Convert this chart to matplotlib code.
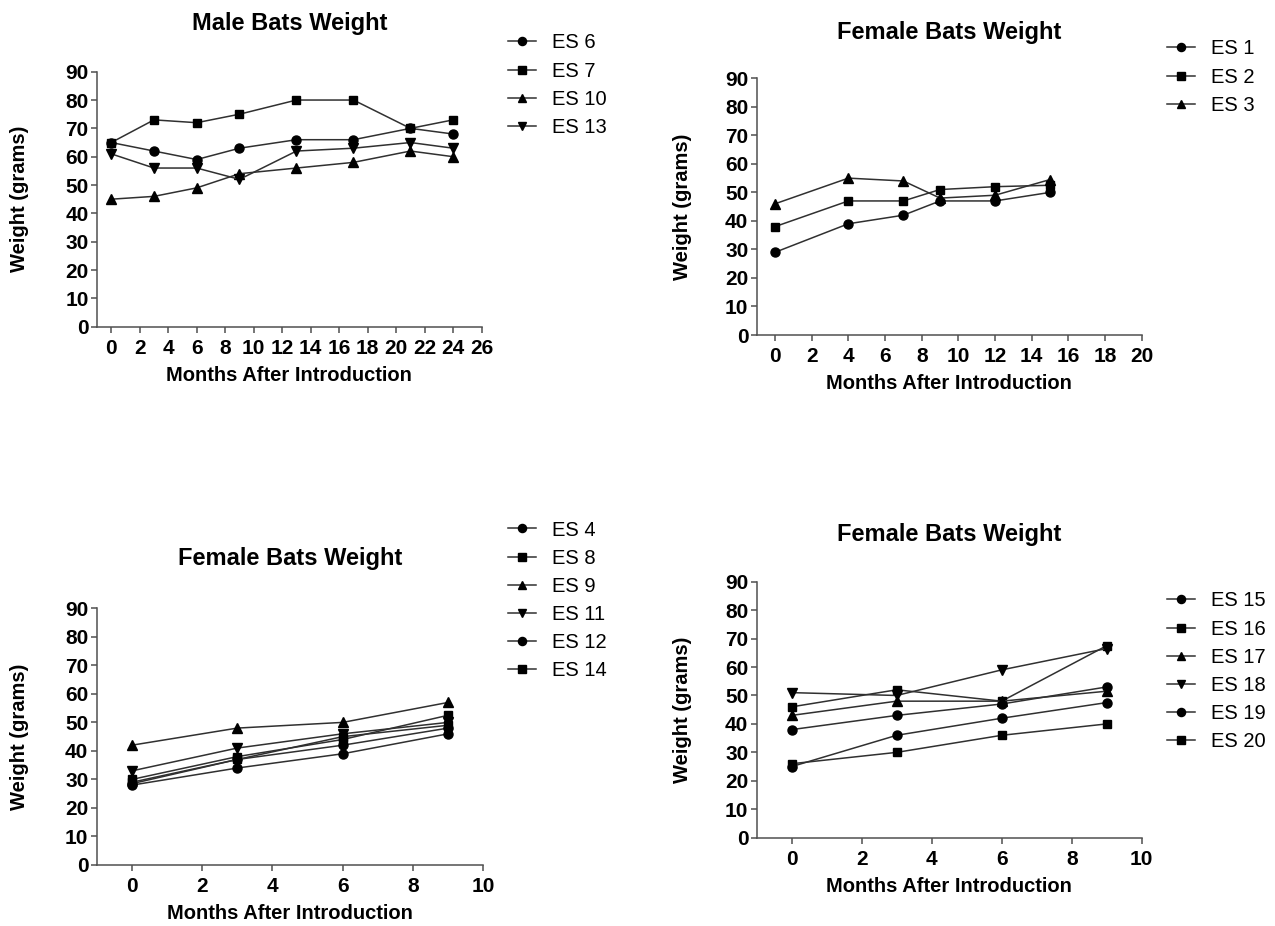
import matplotlib
matplotlib.use("Agg")
import matplotlib.pyplot as plt

plt.rcParams['font.family'] = ['Liberation Sans', 'DejaVu Sans']

# ---------------- data ----------------
male_months = [0, 3, 6, 9, 13, 17, 21, 24]
es6 = [65, 62, 59, 63, 66, 66, 70, 68]
es7 = [65, 73, 72, 75, 80, 80, 70, 73]
es10 = [45, 46, 49, 54, 56, 58, 62, 60]
es13 = [61, 56, 56, 52, 62, 63, 65, 63]

fem_a_months = [0, 4, 7, 9, 12, 15]
es1 = [29, 39, 42, 47, 47, 50]
es2 = [38, 47, 47, 51, 52, 52.5]
es3 = [46, 55, 54, 48, 49, 54.5]

fem_b_months = [0, 3, 6, 9]
es4 = [28, 34, 39, 46]
es8 = [30, 38, 44, 52.5]
es9 = [42, 48, 50, 57]
es11 = [33, 41, 46, 50]
es12 = [28.5, 37, 42, 48]
es14 = [29, 37, 45, 49]

fem_c_months = [0, 3, 6, 9]
es15 = [38, 43, 47, 53]
es16 = [46, 52, 48, 67.5]
es17 = [43, 48, 48, 51.5]
es18 = [51, 50, 59, 66.5]
es19 = [25, 36, 42, 47.5]
es20 = [26, 30, 36, 40]

titles = ["Male Bats Weight", "Female Bats Weight", "Female Bats Weight", "Female Bats Weight"]
xlabel = "Months After Introduction"
ylabel = "Weight (grams)"

# ---------------- layout ----------------
W, H = 1275, 926
fig = plt.figure(figsize=(W / 100, H / 100), dpi=100)

def rect(x0, ybot, x1, ytop):
    return [x0 / W, 1 - ybot / H, (x1 - x0) / W, (ybot - ytop) / H]

LINE_C = '#303030'
SPINE_C = '#505050'
TICK_FS = 15
LAB_FS = 14.5
TITLE_FS = 17
LEG_FS = 14.5

marker_size = {'o': 6.5, 's': 6.0, '^': 6.5, 'v': 6.5}

panels = [
    dict(box=(97, 326.7, 481.7, 71.7), xmax=26, x=male_months,
         series=[("ES 6", es6, 'o'), ("ES 7", es7, 's'), ("ES 10", es10, '^'), ("ES 13", es13, 'v')],
         title_base=30, leg=(508, 42), ylab_x=18),
    dict(box=(756.7, 335, 1141.7, 78.3), xmax=20, x=fem_a_months,
         series=[("ES 1", es1, 'o'), ("ES 2", es2, 's'), ("ES 3", es3, '^')],
         title_base=39, leg=(1167, 48), ylab_x=681),
    dict(box=(96.7, 865, 483.3, 608.3), xmax=10, x=fem_b_months,
         series=[("ES 4", es4, 'o'), ("ES 8", es8, 's'), ("ES 9", es9, '^'),
                 ("ES 11", es11, 'v'), ("ES 12", es12, 'o'), ("ES 14", es14, 's')],
         title_base=565, leg=(508, 529), ylab_x=18),
    dict(box=(756.7, 837.7, 1141.7, 581.7), xmax=10, x=fem_c_months,
         series=[("ES 15", es15, 'o'), ("ES 16", es16, 's'), ("ES 17", es17, '^'),
                 ("ES 18", es18, 'v'), ("ES 19", es19, 'o'), ("ES 20", es20, 's')],
         title_base=541, leg=(1167, 600), ylab_x=681),
]

for i, p in enumerate(panels):
    x0, yb, x1, yt = p['box']
    ax = fig.add_axes(rect(x0, yb, x1, yt))
    for name, vals, m in p['series']:
        ax.plot(p['x'], vals, color=LINE_C, lw=1.1, marker=m, ms=marker_size[m],
                mfc='black', mec='black', label=name, clip_on=False, zorder=3)
    ax.set_xlim(-1, p['xmax'])
    ax.set_ylim(0, 90)
    ax.set_xticks(range(0, p['xmax'] + 1, 2))
    ax.set_yticks(range(0, 91, 10))
    for s in ['top', 'right']:
        ax.spines[s].set_visible(False)
    for s in ['left', 'bottom']:
        ax.spines[s].set_color(SPINE_C)
        ax.spines[s].set_linewidth(1.1)
    ax.tick_params(axis='both', colors=SPINE_C, width=1.1, labelcolor='black')
    ax.tick_params(axis='x', length=4.5, pad=4, labelsize=TICK_FS)
    ax.tick_params(axis='y', length=4.5, pad=1.5, labelsize=TICK_FS)
    for lab in ax.get_xticklabels() + ax.get_yticklabels():
        lab.set_fontweight('bold')

    ax.set_xlabel(xlabel, fontsize=LAB_FS, fontweight='bold')
    ax.xaxis.set_label_coords(((x0 + x1) / 2) / W, 1 - (yb + 39) / H, transform=fig.transFigure)
    ax.set_ylabel(ylabel, fontsize=LAB_FS, fontweight='bold')
    ax.yaxis.set_label_coords((p['ylab_x'] + 11.5) / W, 1 - ((yb + yt) / 2) / H, transform=fig.transFigure)

    fig.text(((x0 + x1) / 2) / W, 1 - p['title_base'] / H, titles[i],
             fontsize=TITLE_FS, fontweight='bold', ha='center', va='baseline')

    lx, ly = p['leg']
    leg = ax.legend(loc='upper left', bbox_to_anchor=(lx / W, 1 - (ly - 8.5) / H),
                    bbox_transform=fig.transFigure, frameon=False, fontsize=LEG_FS,
                    handlelength=1.4, handletextpad=0.8, labelspacing=0.45,
                    borderpad=0, borderaxespad=0, markerscale=0.9)

fig.savefig("out.png", dpi=100)
